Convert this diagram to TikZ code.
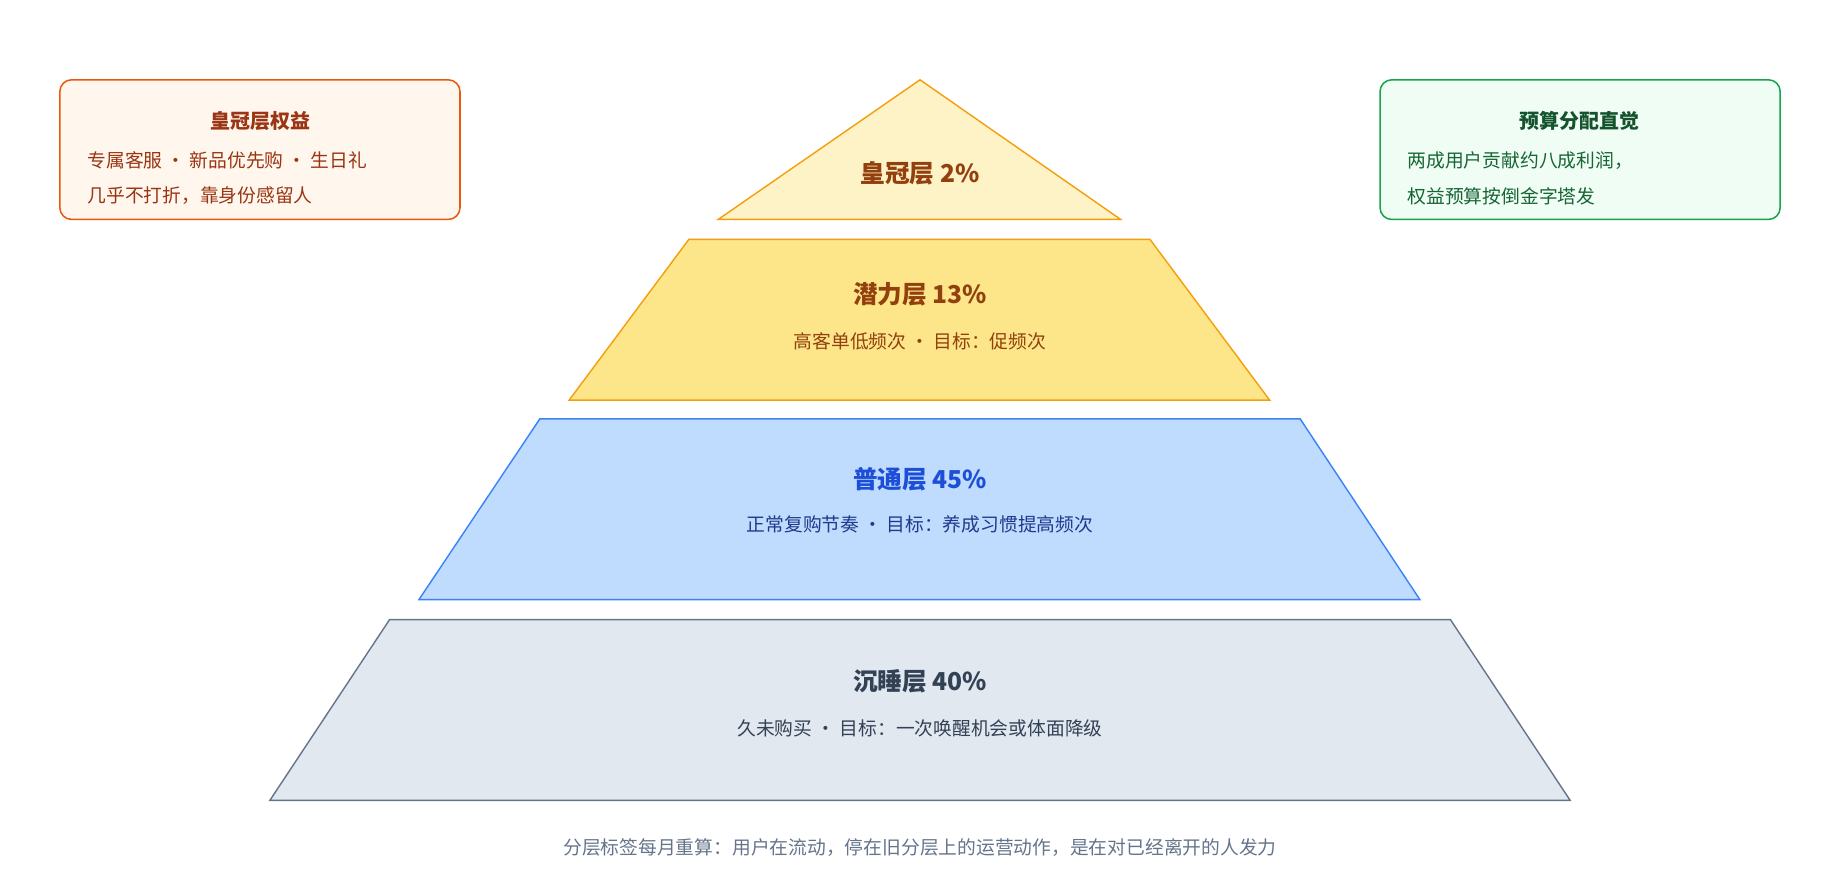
\documentclass[tikz,border=0pt]{standalone}
\usepackage{fontspec}
\setmainfont{Noto Sans CJK SC}
\begin{document}
\begin{tikzpicture}[x=1pt,y=-1pt,
  ttl/.style={font=\fontsize{21}{25}\selectfont\bfseries},
  sub/.style={font=\fontsize{16}{20}\selectfont},
  box/.style={rounded corners=10pt,line width=1.3pt}]
\useasboundingbox (0,0) rectangle (1568,750);
\definecolor{y1}{HTML}{FEF3C7}\definecolor{y2}{HTML}{FDE68A}\definecolor{ys}{HTML}{F59E0B}
\definecolor{br}{HTML}{92400E}
\definecolor{b1}{HTML}{BFDBFE}\definecolor{bs}{HTML}{3B82F6}\definecolor{bt}{HTML}{1D4ED8}\definecolor{bd}{HTML}{1E3A8A}
\definecolor{g1}{HTML}{E2E8F0}\definecolor{gs}{HTML}{64748B}\definecolor{gt}{HTML}{334155}
\definecolor{o1}{HTML}{FFF7ED}\definecolor{os}{HTML}{EA580C}\definecolor{ot}{HTML}{9A3412}
\definecolor{e1}{HTML}{F0FDF4}\definecolor{es}{HTML}{16A34A}\definecolor{et}{HTML}{14532D}\definecolor{ed}{HTML}{166534}
\draw[fill=y1,draw=ys,line width=1.2pt] (784,68)--(955,187)--(612,187)--cycle;
\draw[fill=y2,draw=ys,line width=1.2pt] (587,204)--(980,204)--(1082,341)--(485,341)--cycle;
\draw[fill=b1,draw=bs,line width=1.2pt] (460,357)--(1108,357)--(1210,511)--(357,511)--cycle;
\draw[fill=g1,draw=gs,line width=1.2pt] (332,528)--(1236,528)--(1338,682)--(230,682)--cycle;
\node[ttl,text=br] (t1) at (784,148) {皇冠层 2\%};
\node[ttl,text=br] (t2) at (784,251) {潜力层 13\%};
\node[sub,text=br] (s2) at (784,291) {高客单低频次 · 目标：促频次};
\node[ttl,text=bt] (t3) at (784,408) {普通层 45\%};
\node[sub,text=bd] (s3) at (784,447) {正常复购节奏 · 目标：养成习惯提高频次};
\node[ttl,text=gt] (t4) at (784,581) {沉睡层 40\%};
\node[sub,text=gt] (s4) at (784,621) {久未购买 · 目标：一次唤醒机会或体面降级};
\draw[box,fill=o1,draw=os] (51,68) rectangle (392,187);
\node[sub,font=\fontsize{17}{20}\selectfont\bfseries,text=ot] (lt) at (222,103) {皇冠层权益};
\node[sub,text=ot,anchor=west] (l1) at (71,137) {专属客服 · 新品优先购 · 生日礼};
\node[sub,text=ot,anchor=west] (l2) at (71,167) {几乎不打折，靠身份感留人};
\draw[box,fill=e1,draw=es] (1176,68) rectangle (1517,187);
\node[sub,font=\fontsize{17}{20}\selectfont\bfseries,text=et] (rt) at (1346,103) {预算分配直觉};
\node[sub,text=ed,anchor=west] (r1) at (1196,137) {两成用户贡献约八成利润，};
\node[sub,text=ed,anchor=west] (r2) at (1196,167) {权益预算按倒金字塔发};
\node[sub,text=gs] (ft) at (784,722) {分层标签每月重算：用户在流动，停在旧分层上的运营动作，是在对已经离开的人发力};
\end{tikzpicture}
\end{document}
